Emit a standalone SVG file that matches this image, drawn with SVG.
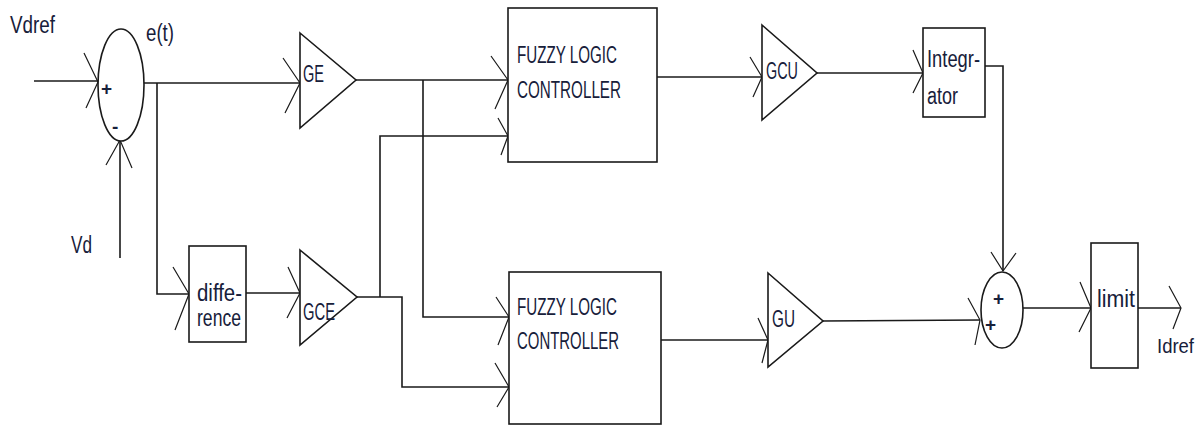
<svg xmlns="http://www.w3.org/2000/svg" width="1199" height="427" viewBox="0 0 1199 427">
<style>
.s{fill:none;stroke:#1a1a1a;stroke-width:1.6}
.b{fill:#fff;stroke:#1a1a1a;stroke-width:1.6}
.ah{fill:none;stroke:#1a1a1a;stroke-width:1.2}
.t{font-family:"Liberation Sans",Arial,sans-serif;font-size:23px;fill:#17203a}
.p{font-family:"Liberation Sans",Arial,sans-serif;font-size:19px;font-weight:bold;fill:#17203a}
</style>
<rect width="1199" height="427" fill="#fff"/>
<g id="connectors">
<polyline class="s" points="34,81 98,81"/>
<polyline class="s" points="120,258 120,140"/>
<polyline class="s" points="144,83 300,83"/>
<polyline class="s" points="157,83 157,294 189,294"/>
<polyline class="s" points="246,293 300,293"/>
<polyline class="s" points="357,297 402,297 402,387 509,387"/>
<polyline class="s" points="380,297 380,136 508,136"/>
<polyline class="s" points="356,80 508,80"/>
<polyline class="s" points="423,80 423,317 509,317"/>
<polyline class="s" points="657,77 762,77"/>
<polyline class="s" points="817,73 923,73"/>
<polyline class="s" points="985,66 1003,66 1003,271"/>
<polyline class="s" points="661,340 768,340"/>
<polyline class="s" points="823,321 980,320"/>
<polyline class="s" points="1023,308 1091,308"/>
<polyline class="s" points="1138,308 1181,308"/>
<polyline class="ah" points="84,53 98,82 86,108"/>
<polyline class="ah" points="106,165 120,140 132,168"/>
<polyline class="ah" points="173,267 189,294 175,330"/>
<polyline class="ah" points="283,58 300,83 285,113"/>
<polyline class="ah" points="288,267 300,293 287,318"/>
<polyline class="ah" points="491,56 508,80 495,109"/>
<polyline class="ah" points="498,118 508,136 501,155"/>
<polyline class="ah" points="496,297 509,317 498,345"/>
<polyline class="ah" points="495,363 509,387 497,407"/>
<polyline class="ah" points="750,57 762,77 753,97"/>
<polyline class="ah" points="913,50 923,73 913,93"/>
<polyline class="ah" points="758,318 768,340 762,363"/>
<polyline class="ah" points="991,252 1003,271 1016,253"/>
<polyline class="ah" points="968,298 980,320 975,345"/>
<polyline class="ah" points="1080,282 1091,308 1079,332"/>
<polyline class="ah" points="1169,286 1181,308 1173,329"/>
</g>
<g id="labels">
<text class="t" x="10" y="33" textLength="45" lengthAdjust="spacingAndGlyphs">Vdref</text>
<text class="t" x="146" y="41" textLength="28" lengthAdjust="spacingAndGlyphs">e(t)</text>
<text class="t" x="71" y="253" textLength="21" lengthAdjust="spacingAndGlyphs">Vd</text>
<text class="t" x="1157" y="353" style="font-size:20px" textLength="37" lengthAdjust="spacingAndGlyphs">Idref</text>
</g>
<g id="sum1">
<ellipse class="b" cx="121" cy="85" rx="23" ry="56"/>
<text class="p" x="101" y="95">+</text>
<text class="p" x="112" y="133">-</text>
</g>
<g id="ge">
<polygon class="b" points="300,33 356,80 300,128"/>
<text class="t" x="303" y="82" textLength="21" lengthAdjust="spacingAndGlyphs">GE</text>
</g>
<g id="difference">
<rect class="b" x="189" y="246" width="57" height="96"/>
<text class="t" x="197" y="301" textLength="45" lengthAdjust="spacingAndGlyphs">diffe-</text>
<text class="t" x="197" y="326" textLength="44" lengthAdjust="spacingAndGlyphs">rence</text>
</g>
<g id="gce">
<polygon class="b" points="300,250 357,297 300,345"/>
<text class="t" x="303" y="320" textLength="32" lengthAdjust="spacingAndGlyphs">GCE</text>
</g>
<g id="flc1">
<rect class="b" x="508" y="8" width="149" height="154"/>
<text class="t" x="517" y="63" textLength="100" lengthAdjust="spacingAndGlyphs">FUZZY LOGIC</text>
<text class="t" x="517" y="98" textLength="104" lengthAdjust="spacingAndGlyphs">CONTROLLER</text>
</g>
<g id="flc2">
<rect class="b" x="509" y="272" width="152" height="152"/>
<text class="t" x="517" y="315" textLength="100" lengthAdjust="spacingAndGlyphs">FUZZY LOGIC</text>
<text class="t" x="517" y="349" textLength="102" lengthAdjust="spacingAndGlyphs">CONTROLLER</text>
</g>
<g id="gcu">
<polygon class="b" points="762,25 817,73 762,120"/>
<text class="t" x="766" y="79" textLength="32" lengthAdjust="spacingAndGlyphs">GCU</text>
</g>
<g id="integrator">
<rect class="b" x="923" y="28" width="62" height="89"/>
<text class="t" x="927" y="67" textLength="53" lengthAdjust="spacingAndGlyphs">Integr-</text>
<text class="t" x="927" y="104" textLength="31" lengthAdjust="spacingAndGlyphs">ator</text>
</g>
<g id="gu">
<polygon class="b" points="768,273 823,321 768,367"/>
<text class="t" x="772" y="327" textLength="23" lengthAdjust="spacingAndGlyphs">GU</text>
</g>
<g id="sum2">
<ellipse class="b" cx="1002" cy="310" rx="21" ry="38"/>
<text class="p" x="993" y="305">+</text>
<text class="p" x="985" y="331">+</text>
</g>
<g id="limit">
<rect class="b" x="1091" y="243" width="47" height="125"/>
<text class="t" x="1097" y="307" textLength="38" lengthAdjust="spacingAndGlyphs">limit</text>
</g>
</svg>
